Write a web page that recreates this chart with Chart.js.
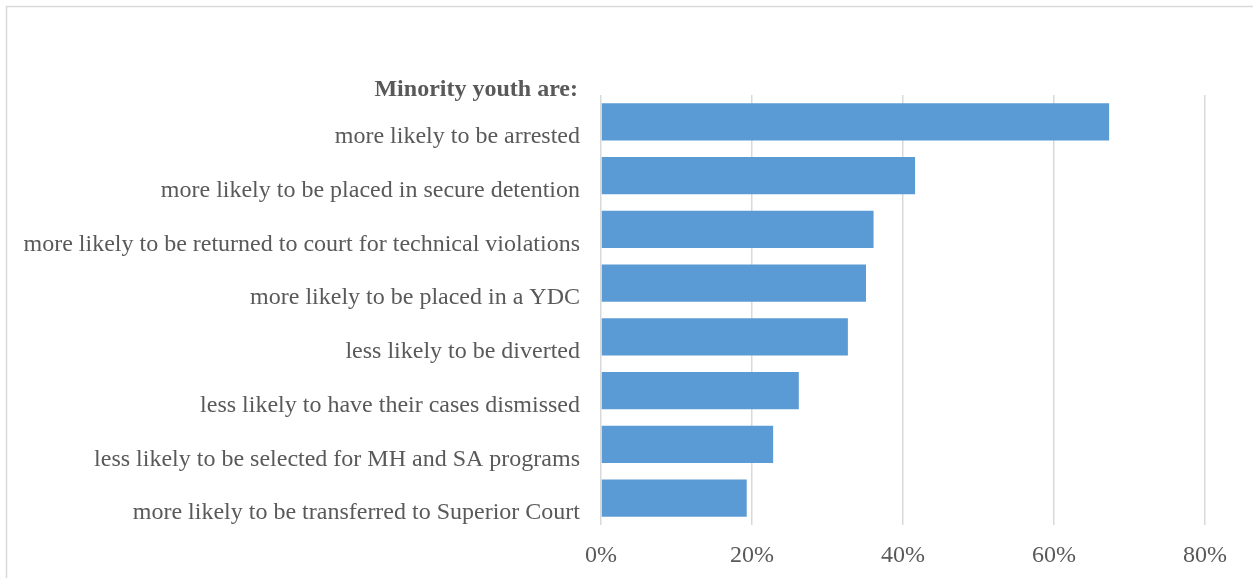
<!DOCTYPE html>
<html>
<head>
<meta charset="utf-8">
<script src="https://cdn.jsdelivr.net/npm/chart.js@4/dist/chart.umd.min.js"></script>
<style>
  html, body { margin: 0; padding: 0; background: #ffffff; }
  #wrap { position: relative; width: 1253px; height: 578px; }
</style>
</head>
<body>
<div id="wrap"><canvas id="chart" width="1253" height="578"></canvas></div>
<script>
const categories = [
  'more likely to be arrested',
  'more likely to be placed in secure detention',
  'more likely to be returned to court for technical violations',
  'more likely to be placed in a YDC',
  'less likely to be diverted',
  'less likely to have their cases dismissed',
  'less likely to be selected for MH and SA programs',
  'more likely to be transferred to Superior Court'
];
const shares = [67.3, 41.6, 36.1, 35.1, 32.7, 26.2, 22.8, 19.3];
const tickValues = [0, 20, 40, 60, 80];
const headerText = 'Minority youth are:';

const textColor = '#595959';
const serif = "'Liberation Serif', 'Times New Roman', serif";

// Outer frame and the bold heading above the category labels
const decorations = {
  id: 'decorations',
  beforeDraw(chart) {
    const ctx = chart.ctx;
    ctx.save();
    ctx.fillStyle = '#ffffff';
    ctx.fillRect(0, 0, chart.width, chart.height);
    ctx.strokeStyle = '#d9d9d9';
    ctx.lineWidth = 1.5;
    ctx.strokeRect(6.5, 6.5, chart.width + 20, chart.height + 20);
    ctx.restore();
  },
  afterDraw(chart) {
    const ctx = chart.ctx;
    ctx.save();
    ctx.font = 'bold 24px ' + serif;
    ctx.fillStyle = textColor;
    ctx.textAlign = 'right';
    ctx.textBaseline = 'middle';
    ctx.fillText(headerText, chart.chartArea.left - 23, 90);
    ctx.restore();
  }
};

new Chart(document.getElementById('chart'), {
  type: 'bar',
  data: {
    labels: categories,
    datasets: [{
      data: shares,
      backgroundColor: '#5b9bd5',
      borderWidth: 0,
      categoryPercentage: 1,
      barPercentage: 0.69
    }]
  },
  plugins: [decorations],
  options: {
    indexAxis: 'y',
    responsive: false,
    animation: false,
    layout: { padding: { top: 95, right: 48, bottom: 0, left: 0 } },
    plugins: {
      legend: { display: false },
      tooltip: { enabled: false }
    },
    scales: {
      x: {
        min: 0,
        max: 80,
        afterBuildTicks(scale) {
          scale.ticks = tickValues.map(v => ({ value: v }));
        },
        afterFit(scale) { scale.height = 53; },
        grid: { color: '#d9d9d9', lineWidth: 1.5, drawTicks: false },
        border: { display: false },
        ticks: {
          padding: 16,
          color: textColor,
          font: { family: serif, size: 24 },
          callback: v => v + '%'
        }
      },
      y: {
        afterFit(scale) { scale.width = 601; },
        grid: { display: false, drawTicks: false },
        border: { display: false },
        ticks: {
          padding: 21,
          labelOffset: 15,
          color: textColor,
          font: { family: serif, size: 24 }
        }
      }
    }
  }
});
</script>
</body>
</html>
